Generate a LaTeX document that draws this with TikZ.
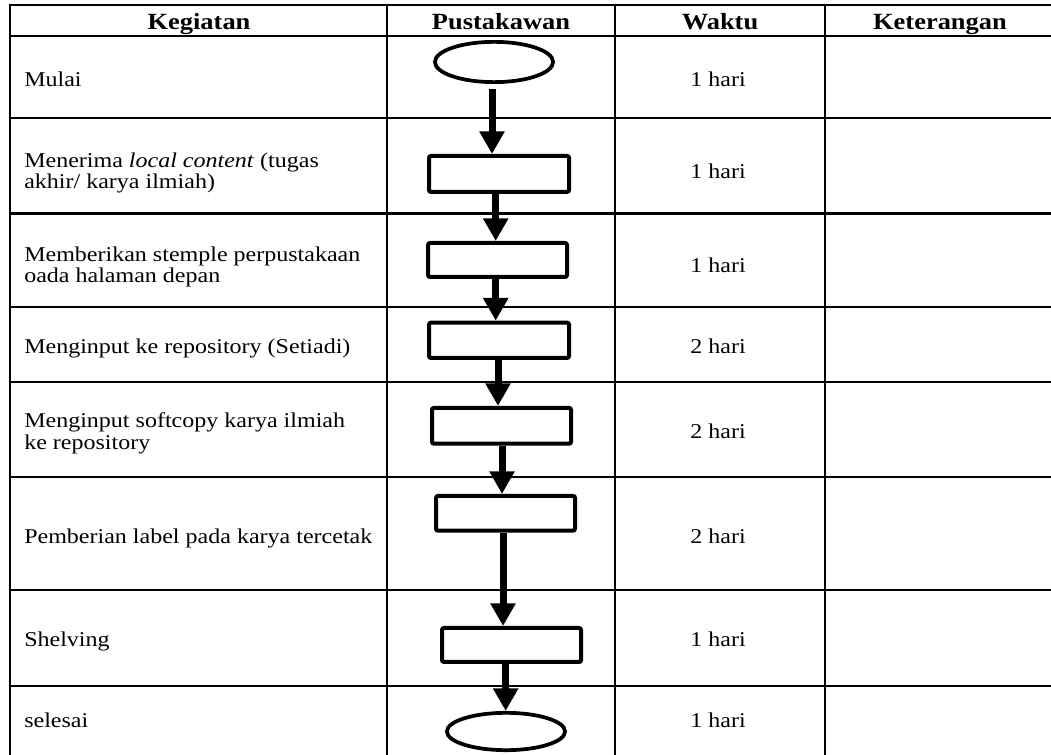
\documentclass[tikz,border=0pt]{standalone}
\usepackage{fontspec}
\setmainfont{Liberation Serif}[FakeStretch=1.14]
\usetikzlibrary{arrows.meta,shapes.geometric}
\begin{document}
\begin{tikzpicture}[x=0.75pt,y=-0.75pt,
  grid/.style={line width=1.7pt},
  hdr/.style={font=\fontsize{17.4}{20}\selectfont\bfseries, anchor=base, inner sep=0},
  txt/.style={font=\fontsize{15.8}{16.1}\selectfont, anchor=base west, inner sep=0},
  wk/.style={font=\fontsize{15.8}{16.1}\selectfont, anchor=base, inner sep=0},
  procbox/.style={draw, line width=3pt, rounded corners=1.5pt, inner sep=0, minimum width=104.25pt},
  term/.style={ellipse, draw, line width=2.8pt, inner sep=0, minimum width=88.6pt},
  flow/.style={line width=5.25pt, -{Triangle[width=18pt,length=17pt]}}]
\useasboundingbox (0,0) rectangle (1051,755);
\clip (0,0) rectangle (1051,755);
\fill[white] (0,0) rectangle (1051,755);
% table grid
\draw[grid] (10,5) rectangle (1055,760);
\foreach \yy in {36,117.7,213.5,306.7,381.7,476.7,590,686}
  \draw[grid] (10,\yy) -- (1055,\yy);
\foreach \xx in {387,615,825}
  \draw[grid] (\xx,5) -- (\xx,760);
% headers
\node[hdr] (h1) at (199,29.5) {Kegiatan};
\node[hdr] (h2) at (501,29.5) {Pustakawan};
\node[hdr] (h3) at (720,29.5) {Waktu};
\node[hdr] (h4) at (940,29.5) {Keterangan};
% activities
\node[txt] (k1) at (24,87) {Mulai};
\node[txt] (k2) at (24,167.5) {\begin{tabular}[t]{@{}l@{}}Menerima \textit{local content} (tugas\\akhir/ karya ilmiah)\end{tabular}};
\node[txt] (k3) at (24,261.5) {\begin{tabular}[t]{@{}l@{}}Memberikan stemple perpustakaan\\oada halaman depan\end{tabular}};
\node[txt] (k4) at (24,354) {Menginput ke repository (Setiadi)};
\node[txt] (k5) at (24,428) {\begin{tabular}[t]{@{}l@{}}Menginput softcopy karya ilmiah\\ke repository\end{tabular}};
\node[txt] (k6) at (24,544) {Pemberian label pada karya tercetak};
\node[txt] (k7) at (24,647) {Shelving};
\node[txt] (k8) at (24,728) {selesai};
% durations
\node[wk] (w1) at (718,87) {1 hari};
\node[wk] (w2) at (718,178.5) {1 hari};
\node[wk] (w3) at (718,272.5) {1 hari};
\node[wk] (w4) at (718,354) {2 hari};
\node[wk] (w5) at (718,439) {2 hari};
\node[wk] (w6) at (718,544) {2 hari};
\node[wk] (w7) at (718,647) {1 hari};
\node[wk] (w8) at (718,728) {1 hari};
% flowchart
\node[term, minimum height=30.2pt] (e1) at (494,62) {};
\node[procbox, minimum width=105pt, minimum height=27pt] (b1) at (499,174) {};
\node[procbox, minimum height=25.5pt] (b2) at (497.5,260) {};
\node[procbox, minimum width=105pt, minimum height=26.5pt] (b3) at (499,340.3) {};
\node[procbox, minimum height=26.8pt] (b4) at (501.5,425.8) {};
\node[procbox, minimum height=26pt] (b5) at (505.5,513.3) {};
\node[procbox, minimum height=25.5pt] (b6) at (511.5,645) {};
\node[term, minimum height=28pt] (e2) at (506,731.5) {};
\coordinate (x1) at (492,0);
\coordinate (x2) at (495.7,0);
\coordinate (x3) at (495.7,0);
\coordinate (x4) at (498,0);
\coordinate (x5) at (502,0);
\coordinate (x6) at (503,0);
\coordinate (x7) at (505.7,0);
\draw[flow, shorten <=4pt] (e1.south -| x1) -- (b1.north -| x1);
\draw[flow] (b1.south -| x2) -- (b2.north -| x2);
\draw[flow] (b2.south -| x3) -- (b3.north -| x3);
\draw[flow] (b3.south -| x4) -- (b4.north -| x4);
\draw[flow] (b4.south -| x5) -- (b5.north -| x5);
\draw[flow] (b5.south -| x6) -- (b6.north -| x6);
\draw[flow] (b6.south -| x7) -- (e2.north -| x7);
\end{tikzpicture}
\end{document}
